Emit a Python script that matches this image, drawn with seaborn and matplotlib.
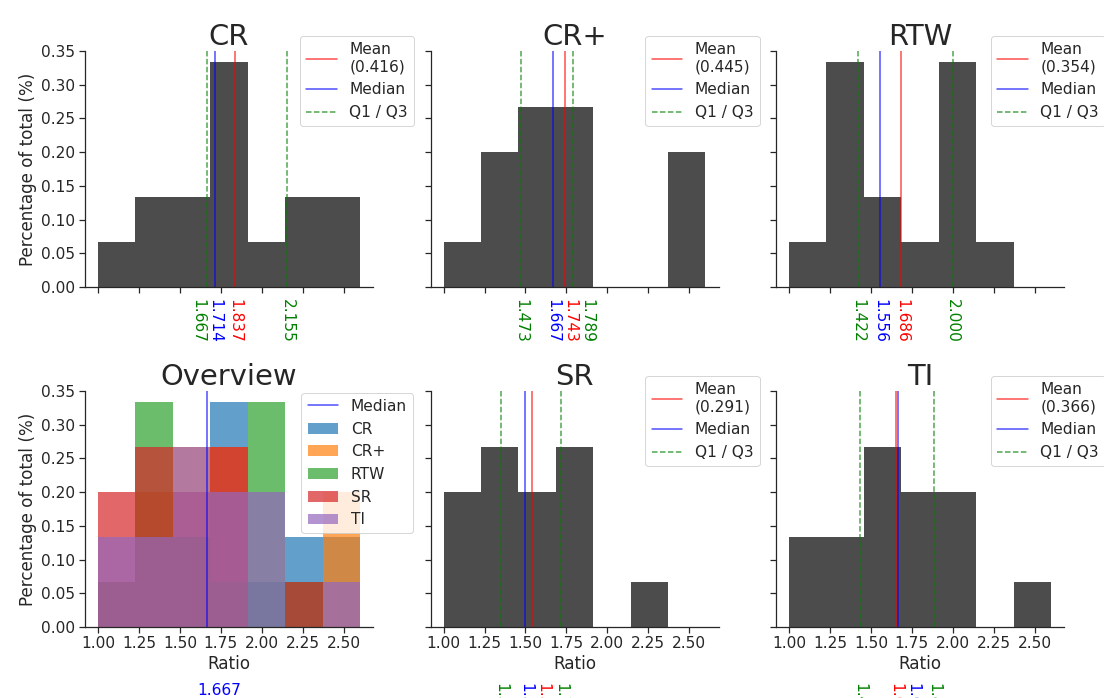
import numpy as np
import pandas as pd
import matplotlib
matplotlib.use("Agg")
import matplotlib.pyplot as plt
import seaborn as sns

# ---------------- data ----------------
groups = ["CR", "CR+", "RTW", "SR", "TI"]
bin_low, bin_high, n_bins = 1.0, 2.6, 7

counts_cr = [1, 2, 2, 5, 1, 2, 2]
counts_crp = [1, 3, 4, 4, 0, 0, 3]
counts_rtw = [1, 5, 2, 1, 5, 1, 0]
counts_sr = [3, 4, 3, 4, 0, 1, 0]
counts_ti = [2, 2, 4, 3, 3, 0, 1]

means = [1.837, 1.743, 1.686, 1.541, 1.652]
medians = [1.714, 1.667, 1.556, 1.500, 1.667]
q1s = [1.667, 1.473, 1.422, 1.350, 1.433]
q3s = [2.155, 1.789, 2.000, 1.718, 1.886]
stds = [0.416, 0.445, 0.354, 0.291, 0.366]
overall_median = 1.667

group_colors = ["tab:blue", "tab:orange", "tab:green", "tab:red", "tab:purple"]
all_counts = [counts_cr, counts_crp, counts_rtw, counts_sr, counts_ti]

# ---------------- style / layout ----------------
sns.set_theme(style="ticks", font_scale=1.4)
W, H = 1104, 698
DPI = 72
fig, axes = plt.subplots(2, 3, figsize=(W / DPI, H / DPI), dpi=DPI,
                         sharex=True, sharey=True)
fig.subplots_adjust(left=85 / W, right=1064 / W, bottom=1 - 627 / H,
                    top=1 - 51 / H, wspace=57.5 / 288, hspace=104 / 236)

edges = np.linspace(bin_low, bin_high, n_bins + 1)
centers = (edges[:-1] + edges[1:]) / 2
tick_fs = plt.rcParams["xtick.labelsize"]

panel_axes = {"CR": axes[0, 0], "CR+": axes[0, 1], "RTW": axes[0, 2],
              "SR": axes[1, 1], "TI": axes[1, 2]}
ov = axes[1, 0]

for ax in axes.flat:
    ax.set_xlim(0.92, 2.68)
    ax.set_ylim(0, 0.35)


def hist(ax, counts, **kw):
    df = pd.DataFrame({"ratio": centers, "n": np.asarray(counts, float)})
    sns.histplot(data=df, x="ratio", weights="n", bins=n_bins,
                 binrange=(bin_low, bin_high), stat="probability", ax=ax,
                 linewidth=0, **kw)


def place_labels(ax, items, y_off, min_px=17):
    items = sorted(items, key=lambda t: t[0])
    px = [ax.transData.transform((v, 0))[0] for v, _, _ in items]
    pos = list(px)
    for i in range(1, len(items)):
        if pos[i] - pos[i - 1] < min_px:
            if items[i - 1][1] == "q1":
                pos[i - 1] = pos[i] - min_px
            else:
                pos[i] = pos[i - 1] + min_px
    for (v, kind, col), p0, p in zip(items, px, pos):
        ax.annotate(f"{v:.3f}", xy=(v, 0), xycoords=("data", "axes fraction"),
                    xytext=(p - p0, -y_off), textcoords="offset pixels",
                    ha="center", va="top", rotation=-90, color=col,
                    fontsize=tick_fs, annotation_clip=False)


for i, g in enumerate(groups):
    ax = panel_axes[g]
    hist(ax, all_counts[i], color="black", alpha=0.7)
    ax.axvline(means[i], color="red", alpha=0.7, lw=1.5,
               label=f"Mean\n({stds[i]:.3f})")
    ax.axvline(medians[i], color="blue", alpha=0.7, lw=1.5, label="Median")
    ax.axvline(q1s[i], color="green", alpha=0.7, lw=1.5, ls="--",
               label="Q1 / Q3")
    ax.axvline(q3s[i], color="green", alpha=0.7, lw=1.5, ls="--")
    ax.set_title(g, fontsize="xx-large")
    ax.legend(loc="upper right", bbox_to_anchor=(1.1424, 1.0636),
              borderaxespad=0)
    top_row = g in ("CR", "CR+", "RTW")
    ax.set_xlim(0.92, 2.68)
    place_labels(ax, [(q1s[i], "q1", "green"), (medians[i], "med", "blue"),
                      (means[i], "mean", "red"), (q3s[i], "q3", "green")],
                 y_off=12 if top_row else 56)

# Overview
for i, g in enumerate(groups):
    hist(ov, all_counts[i], color=group_colors[i], alpha=0.7, label=g)
ov.axvline(overall_median, color="blue", alpha=0.7, lw=1.5, label="Median")
ov.set_title("Overview", fontsize="xx-large")
ov.legend(loc="upper right", bbox_to_anchor=(1.139, 0.993), borderaxespad=0)
ov.set_xlim(0.92, 2.68)
ov.annotate(f"{overall_median:.3f}", xy=(overall_median, 0),
            xycoords=("data", "axes fraction"), xytext=(12, -56),
            textcoords="offset pixels", ha="center", va="top", color="blue",
            fontsize=tick_fs, annotation_clip=False)

for ax in axes.flat:
    ax.set_ylabel("")
    ax.set_xlabel("")
    ax.set_xticks([1.0, 1.25, 1.5, 1.75, 2.0, 2.25, 2.5])
    ax.set_ylim(0, 0.35)
for ax in axes[:, 0]:
    ax.set_ylabel("Percentage of total (%)")
for ax in axes[1, :]:
    ax.set_xlabel("Ratio")
    ax.tick_params(labelbottom=True)
for ax in axes[0, :]:
    ax.tick_params(labelbottom=False)
ax0 = axes[0, 0]
ax0.set_yticks(np.arange(0, 0.351, 0.05))
ax0.yaxis.set_major_formatter(matplotlib.ticker.FormatStrFormatter("%.2f"))

sns.despine(fig=fig)
fig.savefig("out.png", dpi=DPI)
